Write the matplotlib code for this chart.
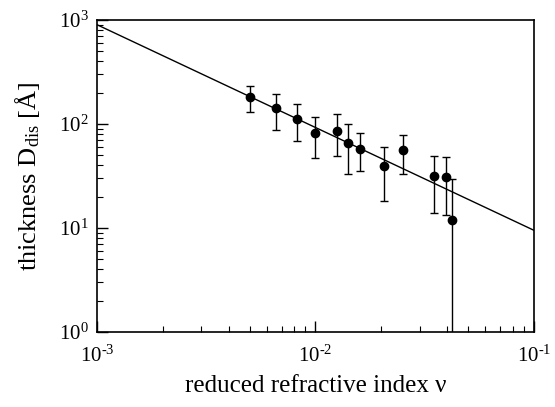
import numpy as np
import matplotlib.pyplot as plt
from matplotlib.ticker import FuncFormatter, LogLocator

# datos
nu = [0.0050, 0.00659, 0.00826, 0.00996, 0.0125, 0.0141, 0.0160, 0.0205, 0.0251, 0.0350, 0.0395, 0.0423]
d = [183, 142, 111, 81, 86, 66, 58, 39, 56, 31.6, 30.7, 11.9]
d_sup = [233, 193, 155, 117, 126, 99, 81, 60, 78, 49.6, 48.2, 29.8]
d_inf = [130, 88, 68, 47, 49, 33, 35, 18, 33, 13.8, 13.2, 0.5]

# ajuste lineal (log-log)
nu_fit = [1e-3, 1e-1]
d_fit = [900, 9.5]

plt.rcParams['font.family'] = ['Liberation Serif', 'DejaVu Serif']
plt.rcParams['mathtext.fontset'] = 'custom'
plt.rcParams['mathtext.rm'] = 'Liberation Serif'
plt.rcParams['mathtext.it'] = 'Liberation Serif:italic'
plt.rcParams['axes.unicode_minus'] = False


def potencia(v, pos):
    e = int(round(np.log10(v)))
    if e < 0:
        return r'10$^{\text{-}%d}$' % (-e)
    return r'10$^{%d}$' % e


fig = plt.figure(figsize=(5.55, 4.07), dpi=100)
ax = fig.add_axes([0.1748, 0.1843, 0.7872, 0.7667])

d = np.array(d)
err = [d - np.array(d_inf), np.array(d_sup) - d]

ax.plot(nu_fit, d_fit, color='black', linewidth=1.0)
ax.errorbar(nu, d, yerr=err, fmt='o', color='black', markersize=6,
            elinewidth=1.0, capsize=3, capthick=1.0)

ax.set_xscale('log')
ax.set_yscale('log')
ax.set_xlim(1e-3, 1e-1)
ax.set_ylim(1, 1e3)
ax.xaxis.set_major_locator(LogLocator(base=10))
ax.xaxis.set_major_formatter(FuncFormatter(potencia))
ax.yaxis.set_major_formatter(FuncFormatter(potencia))

ax.tick_params(which='both', direction='in', top=False, right=False, labelsize=15)
ax.tick_params(which='major', length=8, width=1.0)
ax.tick_params(which='minor', length=4, width=0.8)
ax.tick_params(axis='x', pad=10)
ax.tick_params(axis='y', pad=6)
for s in ax.spines.values():
    s.set_linewidth(1.2)

ax.set_xlabel('reduced refractive index ν', fontsize=18, labelpad=6)
ax.set_ylabel(r'thickness D$_{\rm dis}$ [Å]', fontsize=19, labelpad=12)

fig.savefig('out.png', dpi=100)
